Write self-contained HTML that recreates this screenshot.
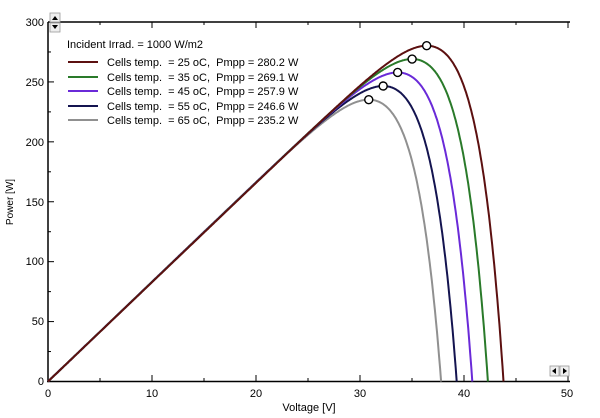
<!DOCTYPE html>
<html><head><style>
body{margin:0;background:#fff;}
svg{display:block;font-family:"Liberation Sans",Arial,sans-serif;}
text{white-space:pre;}
</style></head><body>
<svg id="s" width="600" height="418" xmlns="http://www.w3.org/2000/svg">
<rect width="600" height="418" fill="#fff"/>
<g id="ax" stroke="#000" stroke-width="1.5" fill="none">
<line x1="48" y1="22" x2="570" y2="22"/>
<line x1="48" y1="22" x2="48" y2="382"/>
<line x1="47" y1="381.5" x2="570" y2="381.5"/>
</g>
<g font-size="11" fill="#000" text-anchor="middle">
<text x="48" y="397">0</text><text x="152" y="397">10</text><text x="256" y="397">20</text>
<text x="360" y="397">30</text><text x="464" y="397">40</text><text x="567" y="397">50</text>
</g>
<g font-size="11" fill="#000" text-anchor="end">
<text x="44" y="385">0</text><text x="44" y="325">50</text><text x="44" y="265">100</text>
<text x="44" y="206">150</text><text x="44" y="146">200</text><text x="44" y="86">250</text><text x="44" y="26">300</text>
</g>
<text x="309" y="411" font-size="11" text-anchor="middle">Voltage [V]</text>
<text transform="translate(13,202) rotate(-90)" font-size="10" text-anchor="middle">Power [W]</text>
<g id="curves" fill="none" stroke-width="2"></g>
<g id="marks" fill="#fff" stroke="#000" stroke-width="1.4"></g>
<g font-size="11" fill="#000">
<text x="67" y="48">Incident Irrad. = 1000 W/m2</text>
<line x1="68" y1="62" x2="98" y2="62" stroke="#5c1010" stroke-width="2"/><text x="107" y="66">Cells temp.  = 25 oC,  Pmpp = 280.2 W</text>
<line x1="68" y1="77" x2="98" y2="77" stroke="#2a7a2a" stroke-width="2"/><text x="107" y="81">Cells temp.  = 35 oC,  Pmpp = 269.1 W</text>
<line x1="68" y1="91" x2="98" y2="91" stroke="#6a2ad8" stroke-width="2"/><text x="107" y="95">Cells temp.  = 45 oC,  Pmpp = 257.9 W</text>
<line x1="68" y1="106" x2="98" y2="106" stroke="#141450" stroke-width="2"/><text x="107" y="110">Cells temp.  = 55 oC,  Pmpp = 246.6 W</text>
<line x1="68" y1="120" x2="98" y2="120" stroke="#909090" stroke-width="2"/><text x="107" y="124">Cells temp.  = 65 oC,  Pmpp = 235.2 W</text>
</g>
<g fill="#eee" stroke="#999" stroke-width="0.8">
<rect x="50" y="13" width="10" height="9"/><rect x="50" y="23" width="10" height="9"/>
<rect x="550" y="366" width="9" height="10"/><rect x="560" y="366" width="9" height="10"/>
</g>
<g fill="#000"><path d="M52 20 L55 16 L58 20Z"/><path d="M52 25 L55 29 L58 25Z"/>
<path d="M556 368 L552 371 L556 374Z"/><path d="M563 368 L567 371 L563 374Z"/></g>
</svg>
<script>
var ax=document.getElementById('ax'),cg=document.getElementById('curves'),mg=document.getElementById('marks');
var NS="http://www.w3.org/2000/svg";
function X(v){return 48+v*10.4;}function Y(p){return 381.5-p*359.5/300;}
function ln(x1,y1,x2,y2){var l=document.createElementNS(NS,'line');l.setAttribute('x1',x1);l.setAttribute('y1',y1);l.setAttribute('x2',x2);l.setAttribute('y2',y2);l.setAttribute('stroke-width','1');ax.appendChild(l);}
for(var v=0;v<=50;v+=5){var L=(v%10==0)?6:3;ln(X(v),381,X(v),381-L);ln(X(v),22,X(v),22+L);}
for(var p=0;p<=300;p+=25){var L=(p%50==0)?6:3;ln(48,Y(p),48+L,Y(p));}
var data=[[43.8,'#5c1010',280.2],[42.3,'#2a7a2a',269.1],[40.8,'#6a2ad8',257.9],[39.3,'#141450',246.6],[37.8,'#909090',235.2]];
data.reverse().forEach(function(d){
 var voc=d[0],a=2.8,isc=8.2;
 var f=function(V){return V*isc*(1-Math.exp((V-voc)/a));};
 var best=0,bv=0;for(var V=0;V<voc;V+=0.01){var q=f(V);if(q>best){best=q;bv=V;}}
 var s=d[2]/best;
 var pts=[];for(var V=0;V<=voc;V+=0.1){pts.push(X(V).toFixed(1)+','+Y(Math.max(0,f(V)*s)).toFixed(1));}
 pts.push(X(voc).toFixed(1)+','+Y(0).toFixed(1));
 var pl=document.createElementNS(NS,'polyline');pl.setAttribute('points',pts.join(' '));pl.setAttribute('stroke',d[1]);cg.appendChild(pl);
 var c=document.createElementNS(NS,'circle');c.setAttribute('cx',X(bv));c.setAttribute('cy',Y(d[2]));c.setAttribute('r',4);mg.appendChild(c);
});
</script>
</body></html>
